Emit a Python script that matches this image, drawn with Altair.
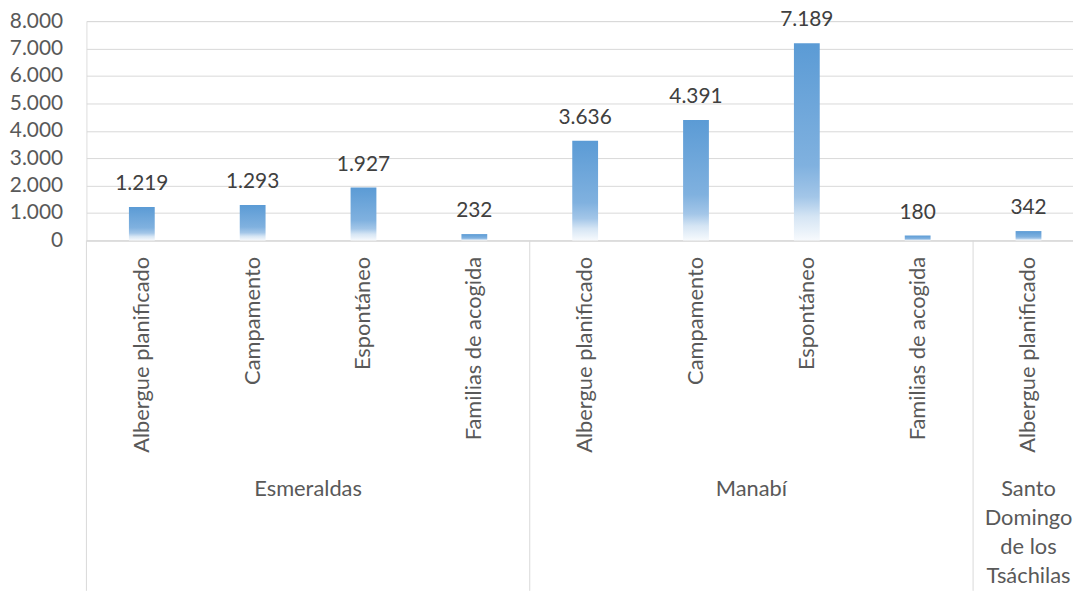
import altair as alt
import pandas as pd

# ---- data ----
groups = ["Esmeraldas", "Esmeraldas", "Esmeraldas", "Esmeraldas",
          "Manabí", "Manabí", "Manabí", "Manabí",
          "Santo Domingo de los Tsáchilas"]
types = ["Albergue planificado", "Campamento", "Espontáneo", "Familias de acogida",
         "Albergue planificado", "Campamento", "Espontáneo", "Familias de acogida",
         "Albergue planificado"]
values = [1219, 1293, 1927, 232, 3636, 4391, 7189, 180, 342]

group_names = ["Esmeraldas", "Manabí"]
group_mid_keys = ["Esmeraldas|Espontáneo", "Manabí|Espontáneo"]
santo_lines = ["Santo", "Domingo", "de los", "Tsáchilas"]
santo_key = "Santo Domingo de los Tsáchilas|Albergue planificado"
separator_keys = ["Esmeraldas|Albergue planificado", "Manabí|Albergue planificado",
                  santo_key]
y_ticks = [0, 1000, 2000, 3000, 4000, 5000, 6000, 7000, 8000]

keys = [g + "|" + t for g, t in zip(groups, types)]
df = pd.DataFrame({"key": keys, "group": groups, "type": types, "value": values})

FONT = "Lato"
FS = 21
FS_CAT = 22
AXIS_GRAY = "#595959"
LINE_GRAY = "#d9d9d9"

xscale = alt.Scale(domain=keys, range=[0, 1005], paddingInner=0, paddingOuter=0)
yscale = alt.Scale(domain=[0, 8000], nice=False)

x_axis = alt.Axis(title=None, labelExpr="split(datum.label, '|')[1]",
                  labelAngle=270, labelAlign="right", labelBaseline="middle",
                  labelPadding=16, ticks=False, tickSize=0, domain=True,
                  domainColor=LINE_GRAY, domainWidth=1, grid=False,
                  labelOverlap=False,
                  labelLimit=500, labelFont=FONT, labelFontSize=FS_CAT,
                  labelColor=AXIS_GRAY)

y_axis = alt.Axis(title=None, values=y_ticks,
                  labelExpr="replace(format(datum.value, ','), ',', '.')",
                  ticks=False, tickSize=0, domain=False, grid=True,
                  labelOverlap=False,
                  gridColor=LINE_GRAY, gridWidth=1, labelPadding=24,
                  labelFont=FONT, labelFontSize=FS, labelColor=AXIS_GRAY)


def xk(band=0.5):
    return alt.X("key:N", scale=xscale, axis=x_axis, bandPosition=band)


def yv():
    return alt.Y("value:Q", scale=yscale, axis=y_axis)


gradient = alt.Gradient(
    gradient="linear", x1=0, x2=0, y1=0, y2=1,
    stops=[alt.GradientStop(color="#5B9BD5", offset=0),
           alt.GradientStop(color="#80B1DF", offset=0.62),
           alt.GradientStop(color="#A3C6E8", offset=0.78),
           alt.GradientStop(color="#D5E5F4", offset=0.88),
           alt.GradientStop(color="#F7FAFD", offset=1)])

base = alt.Chart(df)

bars = base.mark_bar(width=26, color=gradient).encode(
    x=alt.X("key:N", scale=xscale, axis=x_axis), y=yv())

labels = base.transform_calculate(
    lbl="replace(format(datum.value, ','), ',', '.')"
).mark_text(dy=-17, baseline="alphabetic", font=FONT, fontSize=FS,
            color="#404040").encode(
    x=alt.X("key:N", scale=xscale, axis=x_axis), y=yv(), text="lbl:N")

sep_df = pd.DataFrame({"key": separator_keys})
separators = alt.Chart(sep_df).mark_rule(color=LINE_GRAY, strokeWidth=1).encode(
    x=xk(0), y=alt.value(221), y2=alt.value(574))

grp_df = pd.DataFrame({"key": group_mid_keys, "name": group_names})
group_text = alt.Chart(grp_df).mark_text(
    baseline="alphabetic", align="center", font=FONT, fontSize=FS_CAT, color=AXIS_GRAY
).encode(x=xk(0), y=alt.value(478), text="name:N")

santo_df = pd.DataFrame({"key": [santo_key], "name": ["\n".join(santo_lines)]})
santo_text = alt.Chart(santo_df).mark_text(
    baseline="alphabetic", align="center", font=FONT, fontSize=FS_CAT, color=AXIS_GRAY,
    lineBreak="\n", lineHeight=29.5
).encode(x=xk(0.5), y=alt.value(478), text="name:N")

chart = alt.layer(bars, labels, separators, group_text, santo_text).properties(
    width=994, height=221,
    padding={"left": 79, "top": 11, "right": 0, "bottom": 353},
    autosize=alt.AutoSizeParams(type="none"),
).configure_view(stroke=None).configure(background="white")

chart.save("out.html", embed_options={"renderer": "svg", "actions": False})
